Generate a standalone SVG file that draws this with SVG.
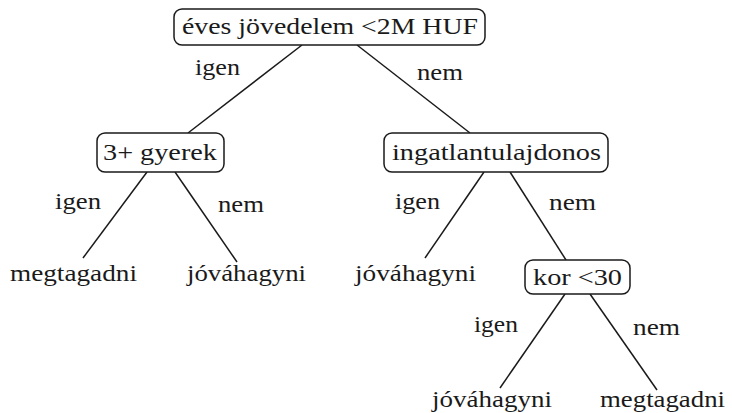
<svg xmlns="http://www.w3.org/2000/svg" width="732" height="413" viewBox="0 0 732 413">
<style>
.t{font-size:24px;fill:#1a1a1a}
.box{fill:#fff;stroke:#1a1a1a;stroke-width:1.5}
.edge{stroke:#1a1a1a;stroke-width:1.5;fill:none}
</style>
<rect width="732" height="413" fill="#fff"/>
<g font-family="Liberation Serif, Times New Roman, serif">
<g id="connectors">
<line class="edge" x1="302" y1="45" x2="188" y2="133"/>
<line class="edge" x1="357" y1="45" x2="470" y2="133"/>
<line class="edge" x1="147" y1="172" x2="83" y2="258"/>
<line class="edge" x1="175" y1="172" x2="237" y2="262"/>
<line class="edge" x1="484" y1="172" x2="425" y2="258"/>
<line class="edge" x1="510" y1="172" x2="566" y2="260"/>
<line class="edge" x1="565" y1="294" x2="500" y2="388"/>
<line class="edge" x1="590" y1="294" x2="657" y2="390"/>
<text class="t" x="195" y="75" textLength="45" lengthAdjust="spacingAndGlyphs">igen</text>
<text class="t" x="417" y="80" textLength="46" lengthAdjust="spacingAndGlyphs">nem</text>
<text class="t" x="55" y="209" textLength="46" lengthAdjust="spacingAndGlyphs">igen</text>
<text class="t" x="218" y="212" textLength="46" lengthAdjust="spacingAndGlyphs">nem</text>
<text class="t" x="395" y="209" textLength="45" lengthAdjust="spacingAndGlyphs">igen</text>
<text class="t" x="549" y="210" textLength="47" lengthAdjust="spacingAndGlyphs">nem</text>
<text class="t" x="474" y="332" textLength="44" lengthAdjust="spacingAndGlyphs">igen</text>
<text class="t" x="633" y="335" textLength="47" lengthAdjust="spacingAndGlyphs">nem</text>
</g>
<g id="root">
<rect class="box" x="174" y="9" width="311" height="36" rx="8"/>
<text class="t" x="182" y="34" textLength="296" lengthAdjust="spacingAndGlyphs">éves jövedelem &lt;2M HUF</text>
</g>
<g id="gyerek">
<rect class="box" x="97" y="133" width="127" height="39" rx="8"/>
<text class="t" x="103" y="160" textLength="114" lengthAdjust="spacingAndGlyphs">3+ gyerek</text>
</g>
<g id="ingatlan">
<rect class="box" x="384" y="133" width="224" height="39" rx="8"/>
<text class="t" x="392" y="160" textLength="209" lengthAdjust="spacingAndGlyphs">ingatlantulajdonos</text>
</g>
<g id="kor">
<rect class="box" x="525" y="260" width="105" height="34" rx="8"/>
<text class="t" x="533" y="285" textLength="89" lengthAdjust="spacingAndGlyphs">kor &lt;30</text>
</g>
<g id="leaf1"><text class="t" x="10" y="281" textLength="127" lengthAdjust="spacingAndGlyphs">megtagadni</text></g>
<g id="leaf2"><text class="t" x="187" y="281" textLength="119" lengthAdjust="spacingAndGlyphs">jóváhagyni</text></g>
<g id="leaf3"><text class="t" x="355" y="281" textLength="121" lengthAdjust="spacingAndGlyphs">jóváhagyni</text></g>
<g id="leaf4"><text class="t" x="432" y="407" textLength="120" lengthAdjust="spacingAndGlyphs">jóváhagyni</text></g>
<g id="leaf5"><text class="t" x="600" y="407" textLength="125" lengthAdjust="spacingAndGlyphs">megtagadni</text></g>
</g>
</svg>
